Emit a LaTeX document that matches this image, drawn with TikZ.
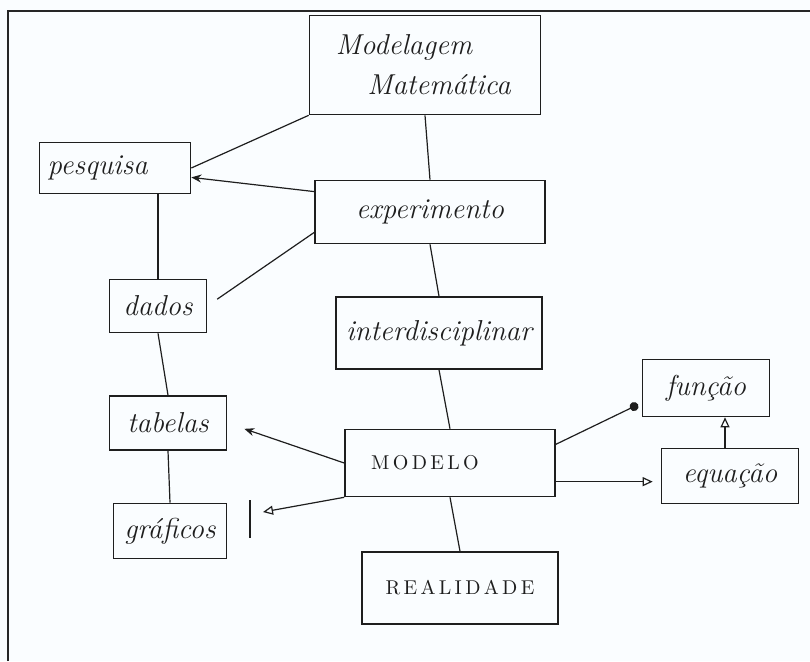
\documentclass[tikz,border=0pt]{standalone}
\usepackage{tikz}
\usepackage{amsmath, amssymb}
\usepackage{xcolor}
\usetikzlibrary{arrows.meta, calc, positioning}
\definecolor{paper}{RGB}{250,253,255}
\definecolor{ink}{RGB}{30,30,30}

\begin{document}
\begin{tikzpicture}[x=0.5pt, y=-0.5pt,
    box/.style={draw=ink, thick, rectangle, inner sep=2pt, font=\Large\itshape, text=ink},
    capbox/.style={box, font=\normalsize\upshape},
    link/.style={draw=ink, semithick},
    opentip/.style={link, -{Triangle[open, length=5pt, width=4.5pt]}},
    veetip/.style={link, -{Stealth[length=5pt, width=4pt]}},
    dottip/.style={link, -{Circle[length=4.5pt]}}]
    % Paper and frame
    \fill[paper] (0,0) rectangle (810,661);
    \useasboundingbox (0,0) rectangle (810,661);
    \draw[black!85, line width=1.2pt] (8,661) -- (8,11) -- (810,11);
    
    % Boxes
    \node[box, minimum width=115.5pt, minimum height=49.5pt, align=center] (modelagem) at (425,65) {Modelagem\hspace*{21pt}\\[2pt]\hspace*{14pt}Matemática};
    \node[box, minimum width=75.5pt, minimum height=25.5pt] (pesquisa) at (115,168) {pesquisa\hspace*{1.2em}};
    \node[box, minimum width=115pt, minimum height=31.5pt] (experimento) at (430,212) {experimento};
    \node[box, minimum width=48.5pt, minimum height=26.5pt] (dados) at (158,306) {dados};
    \node[box, minimum width=103pt, minimum height=36pt] (interdisciplinar) at (439,333) {interdisciplinar};
    \node[box, minimum width=58.5pt, minimum height=27pt] (tabelas) at (168,423) {tabelas};
    \node[capbox, minimum width=105pt, minimum height=33.5pt] (modelo) at (450,463) {\hspace*{-2.5em}M\,O\,D\,E\,L\,O};
    \node[box, minimum width=56.5pt, minimum height=27.5pt] (graficos) at (170,531) {gráficos};
    \node[box, minimum width=63.5pt, minimum height=28.5pt] (funcao) at (706,388) {função};
    \node[box, minimum width=68.5pt, minimum height=27.5pt] (equacao) at (730,476) {equação};
    \node[capbox, minimum width=98pt, minimum height=36pt] (realidade) at (460,588) {R\,E\,A\,L\,I\,D\,A\,D\,E};
    
    % Plain links
    \draw[link] (modelagem.south west) -- (pesquisa.east);
    \draw[link] (modelagem.south) -- (experimento.north);
    \draw[link] (dados.north) -- (dados.north |- pesquisa.south);
    \draw[link, shorten >=6pt] (experimento.190) -- (dados.east);
    \draw[link] (experimento.south) -- (interdisciplinar.north);
    \draw[link] (dados.south) -- (tabelas.north);
    \draw[link] (interdisciplinar.south) -- (modelo.north);
    \draw[link] (tabelas.south) -- (graficos.north);
    \draw[link] (modelo.south) -- (realidade.north);
    
    % Arrows
    \draw[veetip] (experimento.170) -- (pesquisa.-7);
    \draw[veetip, shorten >=9pt] (modelo.west) -- (tabelas.east);
    \coordinate (grafmark) at (263,512);
    \draw[opentip] (modelo.south west) -- (grafmark);
    \draw[ink, semithick] (250,500) -- (250,538);
    \draw[dottip, shorten >=2pt] (modelo.10) -- (funcao.193);
    \draw[opentip, shorten >=4pt] (modelo.-10) -- (modelo.-10 -| equacao.west);
    \draw[opentip] (equacao.100) -- (equacao.100 |- funcao.south);
\end{tikzpicture}
\end{document}
